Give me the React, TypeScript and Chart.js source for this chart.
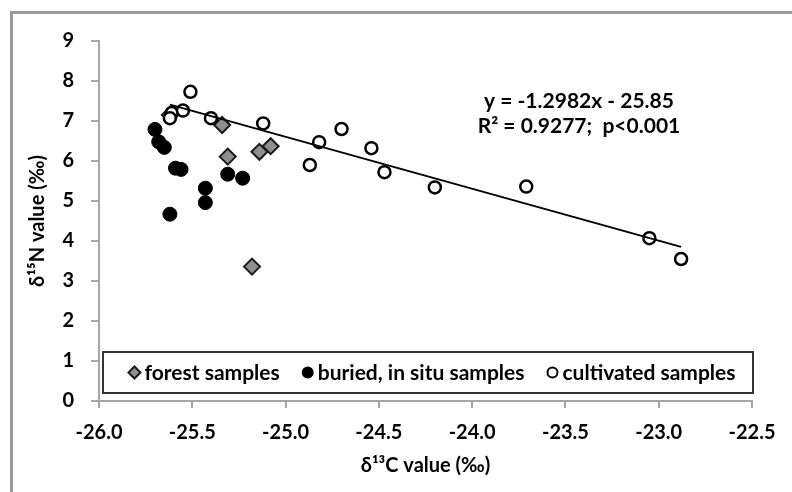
import React, { useEffect, useRef } from 'react';
import { Chart, registerables } from 'chart.js';

Chart.register(...registerables);

// forest samples (grey diamonds)
const forestX = [-25.62, -25.34, -25.31, -25.14, -25.08, -25.18];
const forestY = [7.15, 6.9, 6.11, 6.23, 6.37, 3.36];

// buried, in situ samples (black dots)
const buriedX = [-25.7, -25.68, -25.65, -25.59, -25.56, -25.62, -25.43, -25.43, -25.31, -25.23];
const buriedY = [6.79, 6.48, 6.34, 5.82, 5.79, 4.67, 5.32, 4.96, 5.67, 5.57];

// cultivated samples (open circles)
const cultX = [-25.51, -25.61, -25.62, -25.55, -25.4, -25.12, -24.7, -24.82, -24.87, -24.54, -24.47, -24.2, -23.71, -23.05, -22.88];
const cultY = [7.73, 7.2, 7.07, 7.26, 7.07, 6.94, 6.8, 6.47, 5.9, 6.32, 5.72, 5.34, 5.36, 4.07, 3.55];

// regression line shown on the chart
const trendSlope = -1.2982;
const trendIntercept = -25.85;
const trendRange = [-25.62, -22.88];

const equationLines = ['y = -1.2982x - 25.85', 'R\u00B2 = 0.9277;  p<0.001'];
const legendLabels = ['forest samples', 'buried, in situ samples', 'cultivated samples'];

const xTitle = '\u03B4\u00B9\u00B3C value (\u2030)';
const yTitle = '\u03B4\u00B9\u2075N value (\u2030)';

const FONT = 'Lato, "Open Sans", sans-serif';
const AXIS_GREY = '#a6a6a6';

const styles = [
  { shape: 'diamond', fill: '#8f8f8f', stroke: '#1a1a1a' },
  { shape: 'circle', fill: '#000000', stroke: '#000000' },
  { shape: 'circle', fill: '#ffffff', stroke: '#000000' },
];

function drawMarker(ctx: CanvasRenderingContext2D, shape: string, x: number, y: number, r: number, fill: string, stroke: string) {
  ctx.save();
  ctx.beginPath();
  if (shape === 'diamond') {
    ctx.moveTo(x, y - r);
    ctx.lineTo(x + r, y);
    ctx.lineTo(x, y + r);
    ctx.lineTo(x - r, y);
    ctx.closePath();
  } else {
    ctx.arc(x, y, r, 0, Math.PI * 2);
  }
  ctx.fillStyle = fill;
  ctx.fill();
  ctx.lineWidth = 2;
  ctx.strokeStyle = stroke;
  ctx.stroke();
  ctx.restore();
}

const decorPlugin = {
  id: 'decor',
  beforeDraw(chart: any) {
    const ctx = chart.ctx as CanvasRenderingContext2D;
    ctx.save();
    ctx.fillStyle = '#ffffff';
    ctx.fillRect(0, 0, chart.width, chart.height);
    // outer frame (top + left)
    ctx.strokeStyle = '#9a9a9a';
    ctx.lineWidth = 3;
    ctx.beginPath();
    ctx.moveTo(11.5, chart.height);
    ctx.lineTo(11.5, 12.5);
    ctx.lineTo(chart.width, 12.5);
    ctx.stroke();
    ctx.restore();
  },
  afterDraw(chart: any) {
    const ctx = chart.ctx as CanvasRenderingContext2D;
    const area = chart.chartArea;
    ctx.save();
    // equation text
    ctx.fillStyle = '#000';
    ctx.font = 'bold 21px ' + FONT;
    ctx.textAlign = 'center';
    ctx.textBaseline = 'middle';
    ctx.fillText(equationLines[0], 579, 101);
    ctx.fillText(equationLines[1], 579, 126);

    // legend box
    const bx = area.left + 4;
    const bw = area.right + 1 - bx;
    const by = 352;
    const bh = 41;
    ctx.fillStyle = '#fff';
    ctx.fillRect(bx, by, bw, bh);
    ctx.strokeStyle = '#333';
    ctx.lineWidth = 2;
    ctx.strokeRect(bx, by, bw, bh);

    ctx.font = 'bold 21px ' + FONT;
    ctx.textAlign = 'left';
    const markerW = 12;
    const gapMT = 4;
    const gapItems = 22;
    const widths = legendLabels.map((t) => ctx.measureText(t).width);
    const total = widths.reduce((a, b) => a + b, 0) + legendLabels.length * (markerW + gapMT) + gapItems * (legendLabels.length - 1);
    let cx = bx + bw / 2 + 4 - total / 2;
    const cy = by + bh / 2;
    legendLabels.forEach((t, i) => {
      const s = styles[i];
      drawMarker(ctx, s.shape, cx + markerW / 2, cy, s.shape === 'diamond' ? 6 : 5, s.fill, s.stroke);
      cx += markerW + gapMT;
      ctx.fillStyle = '#000';
      ctx.fillText(t, cx, cy + 1);
      cx += widths[i] + gapItems;
    });
    ctx.restore();
  },
};

export default function App() {
  const ref = useRef<HTMLCanvasElement | null>(null);

  useEffect(() => {
    if (!ref.current) return;
    const toPts = (xs: number[], ys: number[]) => xs.map((x, i) => ({ x, y: ys[i] }));
    const trendPts = trendRange.map((x) => ({ x, y: trendSlope * x + trendIntercept }));

    const chart = new Chart(ref.current, {
      type: 'scatter',
      data: {
        datasets: [
          {
            type: 'line',
            label: 'trend',
            data: trendPts,
            borderColor: '#000',
            borderWidth: 2,
            pointRadius: 0,
            fill: false,
            order: 0,
          } as any,
          {
            label: legendLabels[2],
            data: toPts(cultX, cultY),
            pointStyle: 'circle',
            pointRadius: 6,
            backgroundColor: '#fff',
            borderColor: '#000',
            borderWidth: 2.5,
            order: 1,
          },
          {
            label: legendLabels[0],
            data: toPts(forestX, forestY),
            pointStyle: 'rectRot',
            pointRadius: 8,
            backgroundColor: '#8f8f8f',
            borderColor: '#1a1a1a',
            borderWidth: 2,
            order: 2,
          },
          {
            label: legendLabels[1],
            data: toPts(buriedX, buriedY),
            pointStyle: 'circle',
            pointRadius: 7,
            backgroundColor: '#000',
            borderColor: '#000',
            borderWidth: 1,
            order: 3,
          },
        ],
      },
      options: {
        responsive: false,
        animation: false,
        devicePixelRatio: 1,
        layout: { padding: { left: 0, top: 41, right: 40, bottom: 0 } },
        plugins: {
          legend: { display: false },
          tooltip: { enabled: false },
        },
        scales: {
          x: {
            type: 'linear',
            min: -26,
            max: -22.5,
            afterFit: (s: any) => { s.height = 91; },
            ticks: {
              stepSize: 0.5,
              callback: (v: any) => Number(v).toFixed(1),
              color: '#000',
              font: { family: FONT, size: 20, weight: 'bold' },
              padding: 13,
              maxRotation: 0,
            },
            grid: { drawOnChartArea: false, drawTicks: true, tickLength: 7, color: AXIS_GREY, lineWidth: 2 },
            border: { color: AXIS_GREY, width: 2 },
            title: {
              display: true,
              text: xTitle,
              color: '#000',
              font: { family: FONT, size: 20, weight: 'bold' },
              padding: { top: 0, bottom: 14 },
            },
          },
          y: {
            type: 'linear',
            min: 0,
            max: 9,
            afterFit: (s: any) => { s.width = 99; },
            ticks: {
              stepSize: 1,
              color: '#000',
              font: { family: FONT, size: 20, weight: 'bold' },
              padding: 17,
            },
            grid: { drawOnChartArea: false, drawTicks: true, tickLength: 8, color: AXIS_GREY, lineWidth: 2 },
            border: { color: AXIS_GREY, width: 2 },
            title: {
              display: true,
              text: yTitle,
              color: '#000',
              font: { family: FONT, size: 20, weight: 'bold' },
              padding: { top: 26, bottom: 0 },
            },
          },
        },
      },
      plugins: [decorPlugin],
    });
    return () => chart.destroy();
  }, []);

  return (
    <div style={{ position: 'absolute', left: 0, top: 0, width: 792, height: 492 }}>
      <canvas ref={ref} width={792} height={492} style={{ display: 'block', width: 792, height: 492 }} />
    </div>
  );
}
